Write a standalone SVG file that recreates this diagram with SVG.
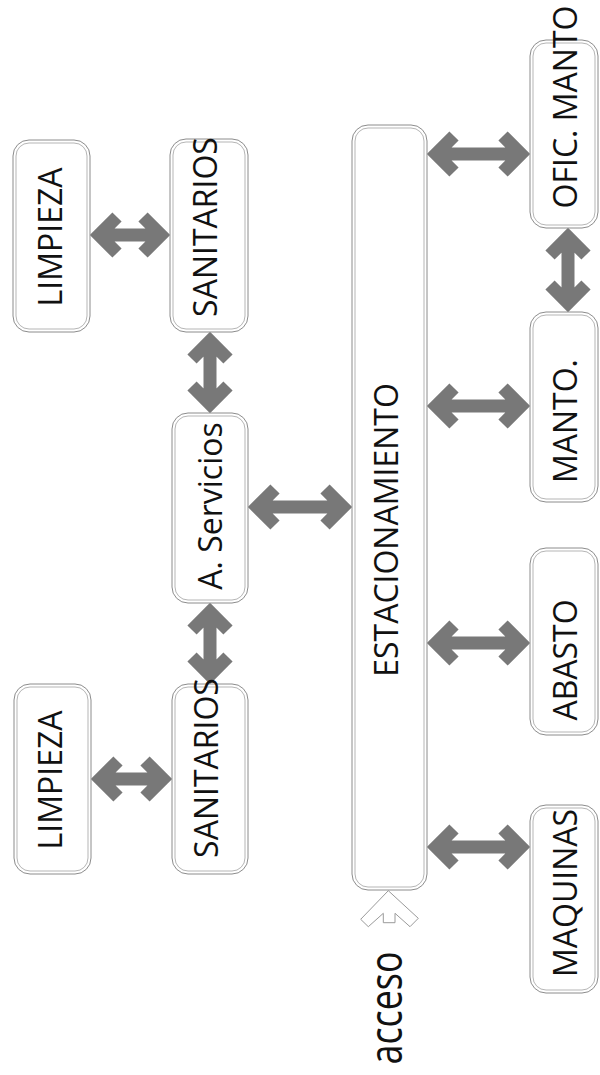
<svg xmlns="http://www.w3.org/2000/svg" width="600" height="1075" viewBox="0 0 600 1075">
<style>
.o{fill:#fff;stroke:#8c8c8c;stroke-width:1}
.i{fill:none;stroke:#b5b5b5;stroke-width:1}
.t{font-family:"Open Sans","Liberation Sans",sans-serif;font-size:32px;fill:#111;text-anchor:middle}
.a{fill:none;stroke:#787878;stroke-width:13;stroke-linejoin:miter;stroke-miterlimit:4;stroke-linecap:butt}
</style>
<rect width="600" height="1075" fill="#fff"/>
<g id="connectors">
<path class="a" d="M99,235 L161,235 M117,217 L99,235 L117,253 M143,217 L161,235 L143,253"/>
<path class="a" d="M210,341 L210,404 M192,359 L210,341 L228,359 M192,386 L210,404 L228,386"/>
<path class="a" d="M257,507 L343,507 M275,489 L257,507 L275,525 M325,489 L343,507 L325,525"/>
<path class="a" d="M210,612 L210,675 M192,630 L210,612 L228,630 M192,657 L210,675 L228,657"/>
<path class="a" d="M100,779 L163,779 M118,761 L100,779 L118,797 M145,761 L163,779 L145,797"/>
<path class="a" d="M436,154 L521,154 M454,136 L436,154 L454,172 M503,136 L521,154 L503,172"/>
<path class="a" d="M568,237 L568,303 M550,255 L568,237 L586,255 M550,285 L568,303 L586,285"/>
<path class="a" d="M436,406 L521,406 M454,388 L436,406 L454,424 M503,388 L521,406 L503,424"/>
<path class="a" d="M436,643 L521,643 M454,625 L436,643 L454,661 M503,625 L521,643 L503,661"/>
<path class="a" d="M436,847 L521,847 M454,829 L436,847 L454,865 M503,829 L521,847 L503,865"/>
<path d="M388.3,890.7 L418.3,918.3 L410,926.7 L395,913.3 L395,922.7 L383.3,922.7 L383.3,913.3 L368.3,926.7 L360.7,919.3 Z" fill="#fff" stroke="#9a9a9a" stroke-width="1"/>
</g>
<g id="limpieza1">
<rect class="o" x="13" y="140" width="77" height="192" rx="16"/>
<rect class="i" x="16" y="143" width="71" height="186" rx="13"/>
<text class="t" transform="translate(62,237) rotate(-90)">LIMPIEZA</text>
</g>
<g id="sanitarios1">
<rect class="o" x="170" y="139" width="78" height="193" rx="16"/>
<rect class="i" x="173" y="142" width="72" height="187" rx="13"/>
<text class="t" transform="translate(217,227) rotate(-90)">SANITARIOS</text>
</g>
<g id="servicios">
<rect class="o" x="172" y="413" width="76" height="190" rx="16"/>
<rect class="i" x="175" y="416" width="70" height="184" rx="13"/>
<text class="t" transform="translate(222,506) rotate(-90)">A. Servicios</text>
</g>
<g id="sanitarios2">
<rect class="o" x="172" y="684" width="76" height="190" rx="16"/>
<rect class="i" x="175" y="687" width="70" height="184" rx="13"/>
<text class="t" transform="translate(218,768) rotate(-90)">SANITARIOS</text>
</g>
<g id="limpieza2">
<rect class="o" x="14" y="684" width="77" height="190" rx="16"/>
<rect class="i" x="17" y="687" width="71" height="184" rx="13"/>
<text class="t" transform="translate(62,780) rotate(-90)">LIMPIEZA</text>
</g>
<g id="estacionamiento">
<rect class="o" x="352" y="125" width="75" height="765" rx="16"/>
<rect class="i" x="355" y="128" width="69" height="759" rx="13"/>
<text class="t" transform="translate(398,530) rotate(-90)">ESTACIONAMIENTO</text>
</g>
<g id="oficmanto">
<rect class="o" x="530" y="40" width="68" height="188" rx="16"/>
<rect class="i" x="533" y="43" width="62" height="182" rx="13"/>
<text class="t" transform="translate(577,107) rotate(-90)">OFIC. MANTO</text>
</g>
<g id="manto">
<rect class="o" x="530" y="312" width="68" height="190" rx="16"/>
<rect class="i" x="533" y="315" width="62" height="184" rx="13"/>
<text class="t" transform="translate(577,421) rotate(-90)">MANTO.</text>
</g>
<g id="abasto">
<rect class="o" x="530" y="548" width="68" height="187" rx="16"/>
<rect class="i" x="533" y="551" width="62" height="181" rx="13"/>
<text class="t" transform="translate(577,660) rotate(-90)">ABASTO</text>
</g>
<g id="maquinas">
<rect class="o" x="530" y="805" width="68" height="188" rx="16"/>
<rect class="i" x="533" y="808" width="62" height="182" rx="13"/>
<text class="t" transform="translate(577,893) rotate(-90)">MAQUINAS</text>
</g>
<g id="acceso">
<text class="t" transform="translate(402,1008) rotate(-90)" style="font-size:46px" textLength="113" lengthAdjust="spacingAndGlyphs">acceso</text>
</g>
</svg>
